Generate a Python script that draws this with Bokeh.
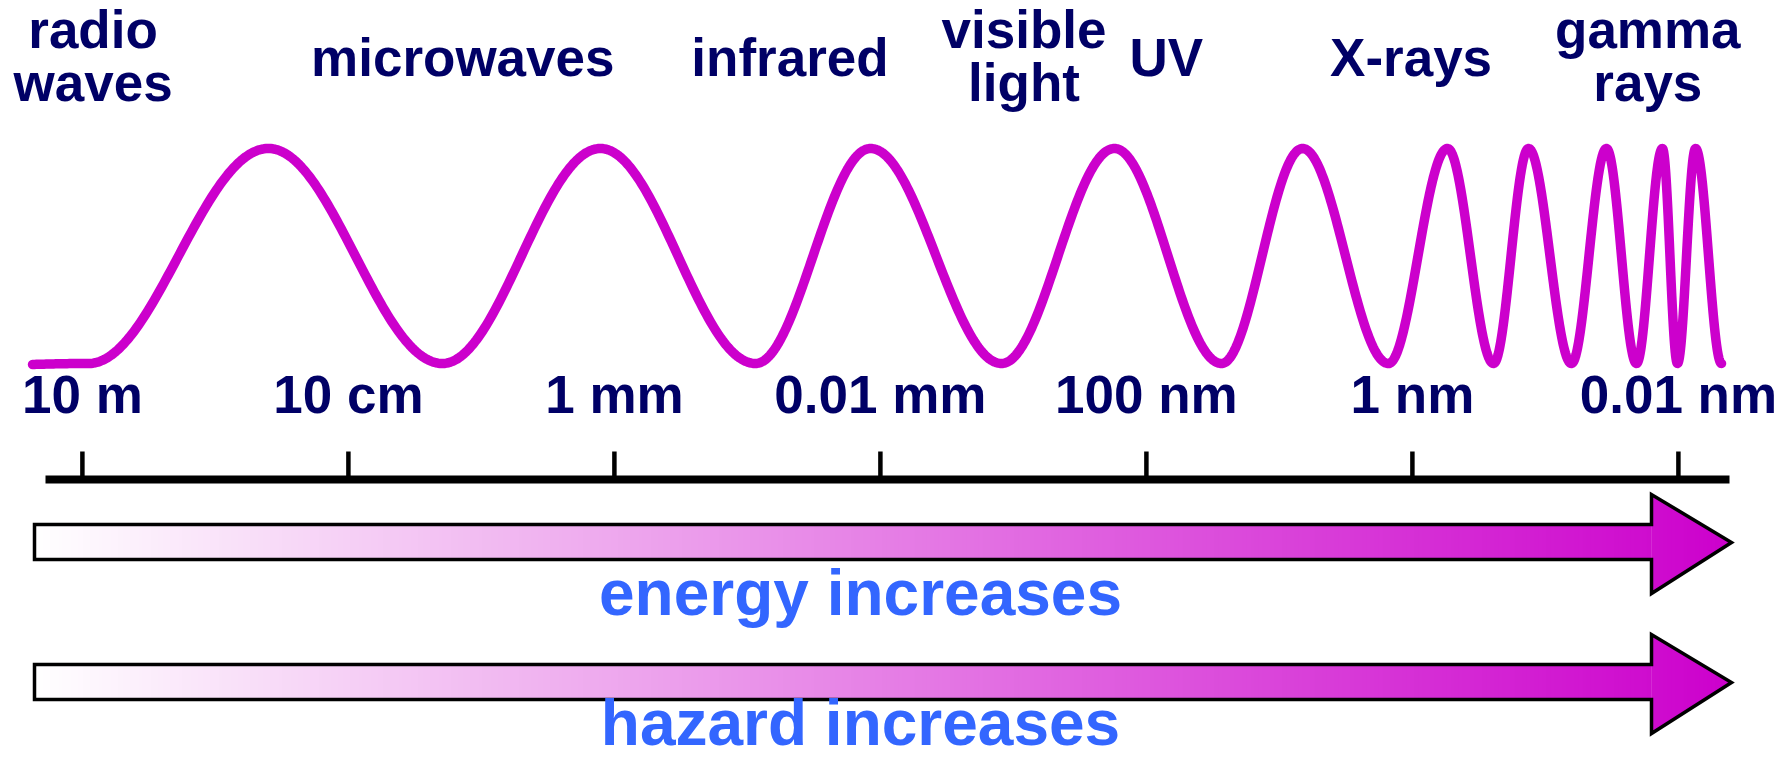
import numpy as np
from bokeh.plotting import figure
from bokeh.models import Range1d
from bokeh.core.properties import value
from bokeh.embed import file_html
from bokeh.resources import INLINE

# ---------------- data (x axis unit: -log10(wavelength / m)) ----------------
band_lines = [["radio", "waves"], ["microwaves"], ["infrared"], ["visible", "light"],
              ["UV"], ["X-rays"], ["gamma", "rays"]]
band_center = [-0.92, 1.86, 4.32, 6.08, 7.15, 8.99, 10.77]
tick_values = [-1, 1, 3, 5, 7, 9, 11]
tick_labels = ["10 m", "10 cm", "1 mm", "0.01 mm", "100 nm", "1 nm", "0.01 nm"]
arrow_labels = ["energy increases", "hazard increases"]
# wave drawing: start, then alternating trough / peak positions
wave_start = -1.375
wave_extrema = [-0.954, 0.399, 1.707, 2.895, 4.061, 4.926, 5.911, 6.760, 7.565, 8.174,
                8.820, 9.264, 9.610, 9.873, 10.196, 10.459, 10.685, 10.880, 10.993,
                11.129, 11.324]

# ---------------- layout helpers (reference pixel -> data) ----------------
W, H = 1785, 761

def X(px):
    return 5 + (px - 879.9) / 133.0

def Y(py):
    return H - py

def TY(baseline_px, size):
    # Bokeh places the "alphabetic" baseline about 0.4 em below the anchor
    return Y(baseline_px - 0.40 * size)

NAVY = "#000066"
BLUE = "#3366ff"
MAGENTA = "#cc00cc"
FONT = value("Liberation Sans")
LS = 53   # label font size (px)
AS = 64   # arrow caption font size (px)

p = figure(width=W, height=H, x_range=Range1d(X(0), X(W)),
           y_range=Range1d(0, H), output_backend="svg", toolbar_location=None,
           x_axis_location=None, y_axis_location=None, min_border=0,
           outline_line_color=None, background_fill_color="white",
           border_fill_color="white")
p.xgrid.visible = False
p.ygrid.visible = False

# ---------------- wave ----------------
trough, peak = Y(363), Y(148)
lead = np.linspace(0, 1, 30)
wx = list(wave_start + (wave_extrema[0] - wave_start) * lead)
wy = list(trough - 1.0 * (1 - lead) ** 2 + 0 * lead)
for i in range(len(wave_extrema) - 1):
    xa, xb = wave_extrema[i], wave_extrema[i + 1]
    ya = trough if i % 2 == 0 else peak
    yb = peak if i % 2 == 0 else trough
    t = np.linspace(0, 1, 80)[1:]
    wx.extend(list(xa + (xb - xa) * t))
    wy.extend(list(ya + (yb - ya) * (1 - np.cos(np.pi * t)) / 2))
p.line(wx, wy, line_color=MAGENTA, line_width=9.5, line_cap="round", line_join="round")

# ---------------- band labels ----------------
lx, ly, lt = [], [], []
for c, lines in zip(band_center, band_lines):
    if len(lines) == 1:
        lx.append(c); ly.append(TY(78, LS)); lt.append(lines[0])
    else:
        lx += [c, c]; ly += [TY(50, LS), TY(103, LS)]; lt += lines
p.text(x=lx, y=ly, text=lt, text_font=FONT, text_font_style="bold",
       text_font_size=f"{LS}px", text_color=NAVY, text_align="center",
       text_baseline="alphabetic")

# ---------------- tick labels, axis line, ticks ----------------
p.text(x=tick_values, y=[TY(415, LS)] * len(tick_values), text=tick_labels,
       text_font=FONT, text_font_style="bold", text_font_size=f"{LS}px",
       text_color=NAVY, text_align="center", text_baseline="alphabetic")
p.segment(x0=[X(45)], x1=[X(1729)], y0=[Y(479)], y1=[Y(479)], line_width=8,
          line_color="black", line_cap="butt")
p.segment(x0=tick_values, x1=tick_values, y0=[Y(451)] * 7, y1=[Y(476)] * 7,
          line_width=4.5, line_color="black", line_cap="butt")

# ---------------- gradient arrows ----------------
def grad(t):
    t = min(max(t, 0.0), 1.0)
    r = int(round(255 + (204 - 255) * t))
    g = int(round(255 * (1 - t)))
    return "#%02x%02x%02x" % (r, g, r)

x_left, x_neck, x_tip = 34, 1651, 1731
label_base = [618, 748]
for k, label in enumerate(arrow_labels):
    off = 140 * k
    s_top, s_bot = 524 + off, 559 + off
    h_top, h_bot, tip_y = 494 + off, 593 + off, 542 + off
    step = 4
    xs0 = np.arange(x_left, x_neck, step)
    lefts = [X(a) for a in xs0]
    rights = [X(min(a + step + 1, x_neck)) for a in xs0]
    cols = [grad((a + step / 2 - x_left) / (x_tip - x_left)) for a in xs0]
    p.quad(left=lefts, right=rights, top=[Y(s_top)] * len(xs0),
           bottom=[Y(s_bot)] * len(xs0), fill_color=cols, line_color=None)
    hxs, hys, hcols = [], [], []
    for a in np.arange(x_neck, x_tip, step):
        b = min(a + step + 1, x_tip)
        def ty(x):
            return h_top + (x - x_neck) * (tip_y - h_top) / (x_tip - x_neck)
        def by(x):
            return h_bot - (x - x_neck) * (h_bot - tip_y) / (x_tip - x_neck)
        hxs.append([X(a), X(b), X(b), X(a)])
        hys.append([Y(ty(a)), Y(ty(b)), Y(by(b)), Y(by(a))])
        hcols.append(grad((a + step / 2 - x_left) / (x_tip - x_left)))
    p.patches(hxs, hys, fill_color=hcols, line_color=None)
    ox = [x_left, x_neck, x_neck, x_tip, x_neck, x_neck, x_left]
    oy = [s_top, s_top, h_top, tip_y, h_bot, s_bot, s_bot]
    p.patch([X(a) for a in ox], [Y(b) for b in oy], fill_alpha=0,
            line_color="black", line_width=3.5, line_join="miter")
    p.text(x=[X(860)], y=[TY(label_base[k], AS)], text=[label],
           text_font=FONT, text_font_style="bold", text_font_size=f"{AS}px",
           text_color=BLUE, text_align="center", text_baseline="alphabetic")

html = file_html(p, INLINE, title="Electromagnetic spectrum")
open("out.html", "w").write(html)
